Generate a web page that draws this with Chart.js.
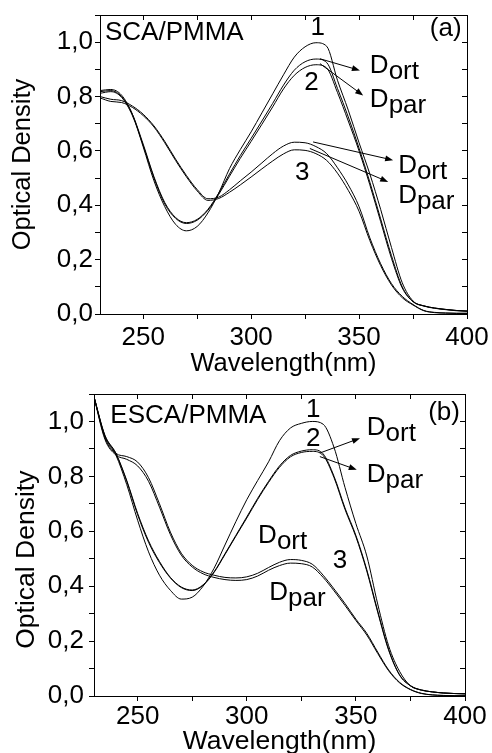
<!DOCTYPE html>
<html>
<head>
  <meta charset="UTF-8">
  <script src="https://cdn.jsdelivr.net/npm/chart.js"></script>
  <style>
    body { margin: 0; overflow: hidden; background: #fff; }
    .panel { position: absolute; left: 0; width: 492px; }
  </style>
</head>
<body>
  <div class="panel" style="top:0"><canvas id="chartA" width="492" height="380"></canvas></div>
  <div class="panel" style="top:370px"><canvas id="chartB" width="492" height="390"></canvas></div>
  <script>
    // wavelength grid (nm)
    const wavelength = [230, 235, 240, 245, 250, 255, 260, 265, 270, 275, 280, 285, 290, 295, 300, 305, 310,
      315, 320, 325, 330, 335, 340, 345, 350, 355, 360, 365, 370, 375, 380, 385, 390, 395, 400];

    // (a) SCA/PMMA
    const scaCurve1 = [0.822, 0.826, 0.805, 0.735, 0.615, 0.49, 0.395, 0.33, 0.306, 0.322, 0.372, 0.445, 0.535, 0.605, 0.67, 0.74, 0.81,
      0.88, 0.945, 0.983, 0.998, 0.985, 0.86, 0.75, 0.63, 0.515, 0.385, 0.245, 0.115, 0.048, 0.03, 0.022, 0.017, 0.013, 0.011];
    const scaCurve2Ort = [0.818, 0.822, 0.8, 0.735, 0.625, 0.505, 0.41, 0.355, 0.336, 0.348, 0.385, 0.445, 0.515, 0.583, 0.646, 0.71, 0.775,
      0.842, 0.897, 0.928, 0.938, 0.925, 0.83, 0.725, 0.61, 0.485, 0.35, 0.215, 0.1, 0.046, 0.03, 0.022, 0.017, 0.013, 0.011];
    const scaCurve2Par = [0.812, 0.818, 0.797, 0.73, 0.62, 0.5, 0.405, 0.352, 0.333, 0.345, 0.382, 0.44, 0.507, 0.573, 0.635, 0.698, 0.762,
      0.828, 0.878, 0.907, 0.917, 0.905, 0.815, 0.71, 0.6, 0.475, 0.34, 0.205, 0.096, 0.045, 0.029, 0.021, 0.016, 0.012, 0.01];
    const scaCurve3Ort = [0.8, 0.79, 0.785, 0.765, 0.735, 0.692, 0.635, 0.57, 0.51, 0.458, 0.424, 0.43, 0.457, 0.49, 0.522, 0.556, 0.59,
      0.618, 0.632, 0.63, 0.616, 0.59, 0.538, 0.475, 0.395, 0.28, 0.185, 0.112, 0.065, 0.035, 0.013, 0.006, 0.004, 0.003, 0.003];
    const scaCurve3Par = [0.795, 0.782, 0.778, 0.76, 0.73, 0.688, 0.63, 0.565, 0.505, 0.453, 0.418, 0.425, 0.448, 0.475, 0.504, 0.534, 0.563,
      0.589, 0.604, 0.602, 0.59, 0.565, 0.518, 0.455, 0.378, 0.27, 0.178, 0.107, 0.06, 0.033, 0.012, 0.005, 0.003, 0.002, 0.002];

    // (b) ESCA/PMMA
    const escaCurve1 = [1.09, 0.945, 0.878, 0.77, 0.64, 0.525, 0.44, 0.385, 0.353, 0.36, 0.4, 0.465, 0.55, 0.635, 0.715, 0.785, 0.853,
      0.93, 0.976, 0.993, 1.0, 0.99, 0.905, 0.76, 0.628, 0.51, 0.335, 0.183, 0.09, 0.037, 0.022, 0.015, 0.011, 0.009, 0.008];
    const escaCurve2Ort = [1.09, 0.95, 0.885, 0.785, 0.665, 0.565, 0.49, 0.432, 0.397, 0.386, 0.405, 0.452, 0.518, 0.585, 0.652, 0.72, 0.782,
      0.838, 0.876, 0.892, 0.897, 0.882, 0.8, 0.685, 0.585, 0.46, 0.31, 0.17, 0.078, 0.038, 0.022, 0.015, 0.011, 0.009, 0.008];
    const escaCurve2Par = [1.088, 0.948, 0.883, 0.782, 0.66, 0.56, 0.486, 0.43, 0.395, 0.384, 0.403, 0.45, 0.515, 0.582, 0.648, 0.716, 0.778,
      0.833, 0.871, 0.887, 0.891, 0.876, 0.795, 0.68, 0.58, 0.455, 0.305, 0.167, 0.076, 0.037, 0.021, 0.015, 0.011, 0.009, 0.008];
    const escaCurve3Ort = [1.09, 0.94, 0.884, 0.872, 0.852, 0.795, 0.7, 0.597, 0.52, 0.476, 0.452, 0.44, 0.432, 0.43, 0.434, 0.447, 0.468,
      0.487, 0.497, 0.494, 0.48, 0.44, 0.39, 0.337, 0.28, 0.228, 0.16, 0.095, 0.05, 0.024, 0.01, 0.004, 0.002, 0.001, 0.001];
    const escaCurve3Par = [1.088, 0.935, 0.878, 0.862, 0.838, 0.782, 0.688, 0.588, 0.513, 0.47, 0.445, 0.432, 0.424, 0.421, 0.424, 0.437, 0.458,
      0.475, 0.484, 0.482, 0.47, 0.432, 0.383, 0.33, 0.275, 0.222, 0.155, 0.092, 0.048, 0.023, 0.009, 0.004, 0.002, 0.001, 0.001];

    // ticks and tick labels
    const xTickValues = [250, 275, 300, 325, 350, 375, 400];
    const xTickLabels = ['250', '', '300', '', '350', '', '400'];
    const yTickValues = [0, 0.2, 0.4, 0.6, 0.8, 1.0];
    const yTickLabels = ['0,0', '0,2', '0,4', '0,6', '0,8', '1,0'];

    const FONT = "'Liberation Sans', Arial, sans-serif";

    function series(values) {
      return {
        data: wavelength.map((w, i) => ({ x: w, y: values[i] })),
        borderColor: '#000',
        borderWidth: 1,
        pointRadius: 0,
        fill: false,
        cubicInterpolationMode: 'monotone'
      };
    }

    // texts and arrows placed in data units
    function panelText(labels, arrows) {
      return {
        id: 'panelText',
        afterDraw(chart) {
          const { ctx } = chart;
          const sx = chart.scales.x, sy = chart.scales.y;
          ctx.save();
          ctx.fillStyle = '#000';
          ctx.strokeStyle = '#000';
          ctx.lineWidth = 1;
          ctx.textBaseline = 'alphabetic';
          ctx.textAlign = 'left';
          ctx.font = '26px ' + FONT;
          labels.forEach(l => {
            const px = sx.getPixelForValue(l.x), py = sy.getPixelForValue(l.y);
            const w = ctx.measureText(l.text).width;
            const sw = l.sub ? ctx.measureText(l.sub).width : 0;
            let left = px;
            if (l.align === 'right') left = px - w - sw;
            if (l.align === 'center') left = px - (w + sw) / 2;
            ctx.fillText(l.text, left, py);
            if (l.sub) ctx.fillText(l.sub, left + w, py + 6);
          });
          arrows.forEach(a => {
            const x1 = sx.getPixelForValue(a[0]), y1 = sy.getPixelForValue(a[1]);
            const x2 = sx.getPixelForValue(a[2]), y2 = sy.getPixelForValue(a[3]);
            const ang = Math.atan2(y2 - y1, x2 - x1);
            ctx.beginPath();
            ctx.moveTo(x1, y1);
            ctx.lineTo(x2 - 6 * Math.cos(ang), y2 - 6 * Math.sin(ang));
            ctx.stroke();
            ctx.beginPath();
            ctx.moveTo(x2, y2);
            ctx.lineTo(x2 - 8 * Math.cos(ang) + 3 * Math.sin(ang), y2 - 8 * Math.sin(ang) - 3 * Math.cos(ang));
            ctx.lineTo(x2 - 8 * Math.cos(ang) - 3 * Math.sin(ang), y2 - 8 * Math.sin(ang) + 3 * Math.cos(ang));
            ctx.closePath();
            ctx.fill();
          });
          ctx.restore();
        }
      };
    }

    const setXTicks = s => { s.ticks = xTickValues.map(v => ({ value: v })); };

    function makeOptions(p) {
      const tickFont = { family: FONT, size: 26 };
      return {
        responsive: false,
        animation: false,
        layout: { padding: { left: 0, top: p.top, right: p.right, bottom: 0 } },
        plugins: { legend: { display: false }, tooltip: { enabled: false } },
        scales: {
          x: {
            type: 'linear', position: 'bottom', min: 230, max: 400,
            afterBuildTicks: setXTicks,
            ticks: {
              autoSkip: false, maxRotation: 0, color: '#000', font: tickFont, padding: p.xPad,
              callback: v => {
                const i = xTickValues.indexOf(v);
                return i >= 0 ? xTickLabels[i] : '';
              }
            },
            grid: { drawOnChartArea: false, tickLength: 5, color: '#000' },
            border: { display: true, color: '#000', width: 1 },
            title: {
              display: true, text: 'Wavelength(nm)', color: '#000',
              font: { family: FONT, size: p.titleSize }, padding: { top: 0, bottom: p.xTitlePad }
            },
            afterFit: s => { s.height = p.xHeight; }
          },
          x2: {
            type: 'linear', position: 'top', min: 230, max: 400,
            afterBuildTicks: setXTicks,
            ticks: { display: false },
            grid: { drawOnChartArea: false, tickLength: -5, color: '#000' },
            border: { display: true, color: '#000', width: 1 },
            afterFit: s => { s.height = 0; }
          },
          y: {
            type: 'linear', position: 'left', min: 0, max: 1.1,
            ticks: {
              stepSize: 0.1, autoSkip: false, color: '#000', font: { family: FONT, size: 26, lineHeight: 1 }, padding: p.yPad,
              callback: v => {
                const i = yTickValues.findIndex(t => Math.abs(t - v) < 1e-6);
                return i >= 0 ? yTickLabels[i] : '';
              }
            },
            grid: { drawOnChartArea: false, tickLength: 5, color: '#000' },
            border: { display: true, color: '#000', width: 1 },
            title: {
              display: true, text: p.yTitle, color: '#000',
              font: { family: FONT, size: p.titleSize }, padding: { top: p.yTitlePad, bottom: 0 }
            },
            afterFit: s => { s.width = p.yWidth; }
          },
          y2: {
            type: 'linear', position: 'right', min: 0, max: 1.1,
            ticks: { display: false, stepSize: 0.1 },
            grid: { drawOnChartArea: false, tickLength: -5, color: '#000' },
            border: { display: true, color: '#000', width: 1 },
            afterFit: s => { s.width = 0; }
          }
        }
      };
    }

    new Chart(document.getElementById('chartA'), {
      type: 'line',
      data: {
        datasets: [scaCurve1, scaCurve2Ort, scaCurve2Par, scaCurve3Ort, scaCurve3Par].map(series)
      },
      options: makeOptions({
        top: 14, right: 25, xHeight: 66, yWidth: 100, xPad: 3, yPad: 2,
        titleSize: 25.5, xTitlePad: 1, yTitlePad: 7.5, yTitle: 'Optical Density'
      }),
      plugins: [panelText([
        { text: 'SCA/PMMA', x: 232.3, y: 1.009 },
        { text: '(a)', x: 397.5, y: 1.021, align: 'right' },
        { text: '1', x: 330.9, y: 1.025, align: 'center' },
        { text: '2', x: 328, y: 0.823, align: 'center' },
        { text: '3', x: 323.7, y: 0.492, align: 'center' },
        { text: 'D', sub: 'ort', x: 355, y: 0.886 },
        { text: 'D', sub: 'par', x: 355, y: 0.761 },
        { text: 'D', sub: 'ort', x: 368.1, y: 0.52 },
        { text: 'D', sub: 'par', x: 368.1, y: 0.408 }
      ], [
        [331.9, 0.939, 350.4, 0.896],
        [331.9, 0.921, 351.9, 0.804],
        [328.7, 0.633, 365.8, 0.566],
        [327.2, 0.609, 363.5, 0.486]
      ])]
    });

    new Chart(document.getElementById('chartB'), {
      type: 'line',
      data: {
        datasets: [escaCurve1, escaCurve2Ort, escaCurve2Par, escaCurve3Ort, escaCurve3Par].map(series)
      },
      options: makeOptions({
        top: 24, right: 27, xHeight: 64, yWidth: 94, xPad: 0, yPad: 5,
        titleSize: 26.5, xTitlePad: 2.5, yTitlePad: 10.5, yTitle: 'Optical Density    '
      }),
      plugins: [panelText([
        { text: 'ESCA/PMMA', x: 237.5, y: 0.994 },
        { text: '(b)', x: 397.7, y: 1.006, align: 'right' },
        { text: '1', x: 330.5, y: 1.018, align: 'center' },
        { text: '2', x: 330.5, y: 0.909, align: 'center' },
        { text: '3', x: 342.7, y: 0.465, align: 'center' },
        { text: 'D', sub: 'ort', x: 355, y: 0.951 },
        { text: 'D', sub: 'par', x: 355, y: 0.781 },
        { text: 'D', sub: 'ort', x: 305.2, y: 0.556 },
        { text: 'D', sub: 'par', x: 310.3, y: 0.349 }
      ], [
        [333.5, 0.885, 351.9, 0.939],
        [333.5, 0.872, 350.4, 0.824]
      ])]
    });
  </script>
</body>
</html>
